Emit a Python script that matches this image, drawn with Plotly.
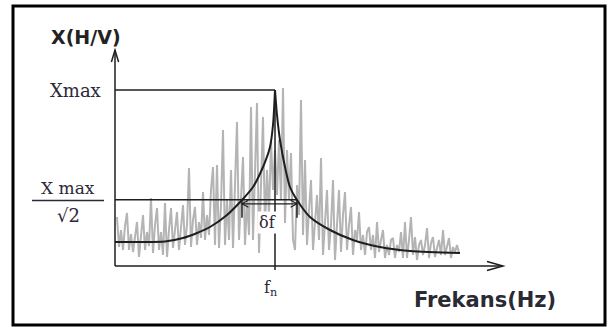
import numpy as np
import plotly.graph_objects as go

# Measured H/V spectral ratio, sampled every 0.05 Hz
freq_hz = [
    0.05, 0.1, 0.15, 0.2, 0.25, 0.3, 0.35, 0.4, 0.45, 0.5,
    0.55, 0.6, 0.65, 0.7, 0.75, 0.8, 0.85, 0.9, 0.95, 1.0,
    1.05, 1.1, 1.15, 1.2, 1.25, 1.3, 1.35, 1.4, 1.45, 1.5,
    1.55, 1.6, 1.65, 1.7, 1.75, 1.8, 1.85, 1.9, 1.95, 2.0,
    2.05, 2.1, 2.15, 2.2, 2.25, 2.3, 2.35, 2.4, 2.45, 2.5,
    2.55, 2.6, 2.65, 2.7, 2.75, 2.8, 2.85, 2.9, 2.95, 3.0,
    3.05, 3.1, 3.15, 3.2, 3.25, 3.3, 3.35, 3.4, 3.45, 3.5,
    3.55, 3.6, 3.65, 3.7, 3.75, 3.8, 3.85, 3.9, 3.95, 4.0,
    4.05, 4.1, 4.15, 4.2, 4.25, 4.3, 4.35, 4.4, 4.45, 4.5,
    4.55, 4.6, 4.65, 4.7, 4.75, 4.8, 4.85, 4.9, 4.95, 5.0,
    5.05, 5.1, 5.15, 5.2, 5.25, 5.3, 5.35, 5.4, 5.45, 5.5,
    5.55, 5.6, 5.65, 5.7, 5.75, 5.8, 5.85, 5.9, 5.95, 6.0,
    6.05, 6.1, 6.15, 6.2, 6.25, 6.3, 6.35, 6.4, 6.45, 6.5,
    6.55, 6.6, 6.65, 6.7, 6.75, 6.8, 6.85, 6.9, 6.95, 7.0,
    7.05, 7.1, 7.15, 7.2, 7.25, 7.3, 7.35, 7.4, 7.45, 7.5,
    7.55, 7.6, 7.65, 7.7, 7.75, 7.8, 7.85, 7.9, 7.95, 8.0,
    8.05, 8.1, 8.15, 8.2, 8.25, 8.3, 8.35, 8.4, 8.45, 8.5,
    8.55, 8.6,
]
hv_ratio = [
    4.96, 4.36, 4.70, 4.30, 4.78, 5.04, 4.30, 4.62, 4.26, 4.54,
    4.86, 4.16, 4.58, 5.00, 4.30, 4.66, 4.38, 5.34, 4.24, 4.80,
    5.14, 4.30, 4.66, 4.20, 5.24, 4.16, 4.70, 5.14, 4.34, 4.74,
    5.06, 4.30, 4.78, 5.20, 4.40, 4.80, 5.94, 4.36, 4.90, 5.16,
    4.40, 4.86, 4.54, 5.46, 4.50, 5.00, 4.60, 5.50, 5.96, 4.40,
    6.00, 4.34, 5.20, 6.70, 4.40, 5.30, 4.50, 5.90, 4.34, 5.50,
    6.86, 4.50, 5.50, 6.16, 4.40, 5.30, 4.60, 7.16, 4.50, 5.70,
    7.24, 4.24, 5.80, 6.96, 4.70, 5.90, 5.00, 6.50, 5.50, 6.30,
    5.40, 6.50, 5.30, 7.54, 4.84, 6.30, 5.30, 6.24, 4.50, 4.30,
    5.60, 5.00, 7.30, 4.60, 6.10, 4.40, 5.10, 5.70, 4.30, 4.90,
    5.40, 4.50, 6.14, 4.20, 5.00, 5.50, 4.30, 4.80, 5.70, 4.10,
    4.80, 5.50, 4.26, 5.00, 5.46, 4.30, 4.80, 5.16, 4.20, 4.70,
    4.50, 5.06, 4.30, 4.60, 4.20, 4.66, 4.76, 4.30, 4.60, 4.14,
    4.86, 4.26, 4.50, 4.70, 4.14, 4.40, 4.20, 4.50, 4.54, 4.14,
    4.40, 4.26, 4.66, 4.14, 4.86, 4.14, 4.50, 4.96, 4.20, 4.56,
    4.10, 4.40, 4.50, 4.20, 4.40, 4.74, 4.14, 4.44, 4.56, 4.16,
    4.34, 4.50, 4.20, 4.70, 4.20, 4.40, 4.54, 4.14, 4.36, 4.26,
    4.40, 4.24,
]

# Smoothed resonance curve: rising and falling branches around the peak
fit_rise_hz = [0.0, 0.625, 1.25, 1.7, 2.05, 2.375, 2.8, 3.175, 3.45, 3.7, 3.875, 3.95, 4.0]
fit_rise_amp = [4.46, 4.46, 4.47, 4.54, 4.64, 4.76, 5.00, 5.30, 5.56, 5.96, 6.36, 6.80, 7.50]
fit_fall_hz = [4.0, 4.05, 4.125, 4.25, 4.375, 4.55, 4.875, 5.375, 5.95, 6.625, 7.375, 8.625]
fit_fall_amp = [7.50, 7.00, 6.50, 5.96, 5.56, 5.30, 4.96, 4.70, 4.50, 4.36, 4.28, 4.24]

# Peak and half-power values
x_max = 7.5
f_n = 4.0
f_half_low = 3.175
f_half_high = 4.55
x_half = x_max / np.sqrt(2)

# Axis extent (frequency and amplitude at the drawn axis lines)
axis_base = 3.98
axis_f_end = 9.7
axis_a_end = 8.3

W, H = 608, 327
INK = "#1e1e1e"
LABEL = "#2c2838"


def px(x):
    return x / W


def py(y):
    return 1 - y / H


fig = go.Figure()

fig.add_trace(go.Scatter(
    x=freq_hz, y=hv_ratio, mode="lines",
    line=dict(color="#b4b4b4", width=2),
    hoverinfo="skip",
))
fig.add_trace(go.Scatter(
    x=fit_rise_hz, y=fit_rise_amp, mode="lines",
    line=dict(color=INK, width=2, shape="spline", smoothing=0.8),
    hoverinfo="skip",
))
fig.add_trace(go.Scatter(
    x=fit_fall_hz, y=fit_fall_amp, mode="lines",
    line=dict(color=INK, width=2, shape="spline", smoothing=0.8),
    hoverinfo="skip",
))

shapes = []
line_style = dict(color=INK, width=1.5)
thin_style = dict(color=INK, width=1.1)

# outer frame
shapes.append(dict(type="rect", xref="paper", yref="paper",
                   x0=px(13), x1=px(605), y0=py(325), y1=py(6),
                   line=dict(color="black", width=3)))
# axes
shapes.append(dict(type="line", xref="x", yref="y", x0=0, x1=0,
                   y0=axis_base, y1=axis_a_end, line=line_style))
shapes.append(dict(type="line", xref="x", yref="y", x0=0, x1=axis_f_end,
                   y0=axis_base, y1=axis_base, line=line_style))
# arrow heads (open chevrons)
shapes.append(dict(type="path", xref="x", yref="y",
                   path=f"M -0.09,{axis_a_end - 0.24} L 0,{axis_a_end} L 0.09,{axis_a_end - 0.24}",
                   line=line_style))
shapes.append(dict(type="path", xref="x", yref="y",
                   path=f"M {axis_f_end - 0.4},{axis_base + 0.09} L {axis_f_end},{axis_base} "
                        f"L {axis_f_end - 0.4},{axis_base - 0.09}",
                   line=line_style))
# Xmax level and natural frequency marker
shapes.append(dict(type="line", xref="x", yref="y", x0=0, x1=f_n,
                   y0=x_max, y1=x_max, line=line_style))
shapes.append(dict(type="line", xref="x", yref="y", x0=f_n, x1=f_n,
                   y0=x_max, y1=axis_base - 0.08, line=line_style))
# half-power level
shapes.append(dict(type="line", xref="x", yref="y", x0=0, x1=f_half_high,
                   y0=x_half, y1=x_half, line=line_style))
for f in (f_half_low, f_half_high):
    shapes.append(dict(type="line", xref="x", yref="y", x0=f, x1=f,
                       y0=x_half, y1=x_half - 0.36, line=line_style))
# bandwidth double arrow between the half-power frequencies
band_y = x_half - 0.08
shapes.append(dict(type="line", xref="x", yref="y", x0=f_half_low, x1=f_half_high,
                   y0=band_y, y1=band_y, line=thin_style))
shapes.append(dict(type="path", xref="x", yref="y",
                   path=f"M {f_half_low + 0.16},{band_y + 0.07} L {f_half_low},{band_y} "
                        f"L {f_half_low + 0.16},{band_y - 0.07}",
                   line=thin_style))
shapes.append(dict(type="path", xref="x", yref="y",
                   path=f"M {f_half_high - 0.16},{band_y + 0.07} L {f_half_high},{band_y} "
                        f"L {f_half_high - 0.16},{band_y - 0.07}",
                   line=thin_style))
# fraction bar of the Xmax/sqrt(2) label
shapes.append(dict(type="line", xref="paper", yref="paper",
                   x0=px(32), x1=px(104), y0=py(200.5), y1=py(200.5),
                   line=dict(color=LABEL, width=1.3)))


def label(x, y, text, family, size, color=LABEL, **extra):
    return dict(x=px(x), y=py(y), xref="paper", yref="paper", text=text,
                xanchor="center", yanchor="middle", showarrow=False,
                font=dict(family=family, size=size, color=color), **extra)


annotations = [
    label(86, 37, "<b>X(H/V)</b>", "DejaVu Sans", 19, "#222"),
    label(485, 300, "<b>Frekans(Hz)</b>", "DejaVu Sans", 21, "#2a2a33"),
    label(75, 90, "Xmax", "DejaVu Serif", 18),
    label(68, 188, "X max", "DejaVu Serif", 17),
    label(68, 215, "√2", "DejaVu Serif", 18),
    label(267, 222, "δf", "DejaVu Serif", 16, bgcolor="white", borderpad=1),
    label(270, 288, "f<sub>n</sub>", "DejaVu Serif", 16),
]

fig.update_layout(
    width=W, height=H,
    margin=dict(l=0, r=0, t=0, b=0),
    paper_bgcolor="white", plot_bgcolor="white",
    showlegend=False,
    xaxis=dict(range=[-115 / 40, 493 / 40], visible=False, fixedrange=True),
    yaxis=dict(range=[138 / 50, 465 / 50], visible=False, fixedrange=True),
    shapes=shapes,
    annotations=annotations,
)

fig.write_html("out.html", config={"displayModeBar": False})
